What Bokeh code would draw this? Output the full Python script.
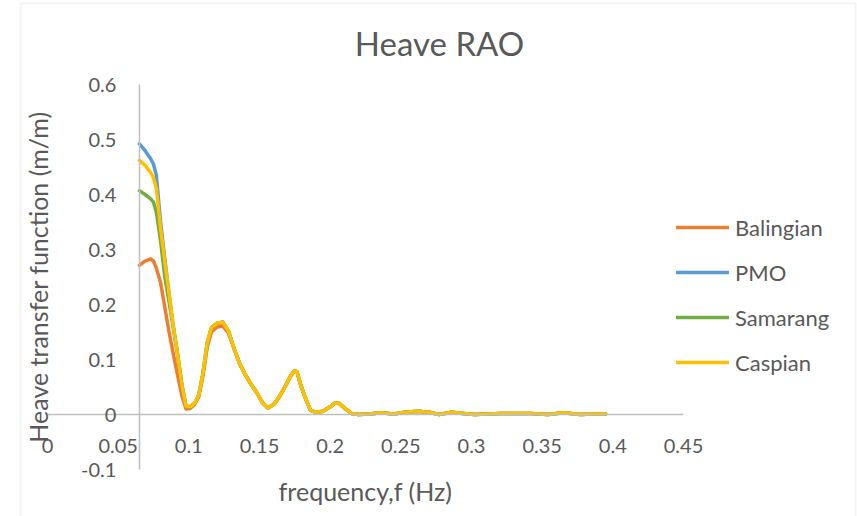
from bokeh.plotting import figure
from bokeh.models import Range1d, FixedTicker, Legend, LegendItem, BoxAnnotation, Label
from bokeh.embed import file_html
from bokeh.resources import INLINE

# ---------------- data ----------------
head_freq = [0.065, 0.069, 0.073, 0.075, 0.077, 0.080, 0.083, 0.086, 0.089, 0.092,
             0.095, 0.098, 0.101, 0.104, 0.107, 0.110, 0.113, 0.116, 0.120, 0.124,
             0.128]
tail_freq = [0.132, 0.136, 0.140, 0.144, 0.148, 0.152, 0.156, 0.160, 0.164, 0.168,
             0.172, 0.1745, 0.1765, 0.179, 0.182, 0.186, 0.190, 0.195, 0.200, 0.2035,
             0.2065, 0.210, 0.215, 0.220, 0.228, 0.236, 0.245, 0.253, 0.262, 0.270,
             0.277, 0.286, 0.294, 0.302, 0.312, 0.321, 0.331, 0.342, 0.354, 0.365,
             0.377, 0.386, 0.395]

# values where all four series coincide (f >= 0.132 Hz)
common_tail = [0.120, 0.092, 0.072, 0.055, 0.040, 0.022, 0.012, 0.018, 0.032, 0.050,
               0.070, 0.079, 0.078, 0.055, 0.033, 0.008, 0.004, 0.006, 0.014, 0.021,
               0.020, 0.012, 0.002, 0.000, 0.001, 0.003, 0.001, 0.004, 0.006, 0.004,
               0.000, 0.004, 0.002, 0.000, 0.001, 0.002, 0.002, 0.002, 0.000, 0.003,
               0.000, 0.001, 0.001]

balingian_head = [0.271, 0.279, 0.283, 0.279, 0.266, 0.240, 0.195, 0.150, 0.110, 0.072,
                  0.035, 0.010, 0.011, 0.018, 0.032, 0.070, 0.122, 0.150, 0.159, 0.161,
                  0.148]
pmo_head = [0.492, 0.480, 0.465, 0.455, 0.435, 0.350, 0.283, 0.220, 0.160, 0.110,
            0.055, 0.015, 0.014, 0.020, 0.035, 0.075, 0.130, 0.158, 0.166, 0.168,
            0.152]
samarang_head = [0.407, 0.400, 0.392, 0.386, 0.368, 0.316, 0.250, 0.205, 0.158, 0.110,
                 0.055, 0.015, 0.014, 0.020, 0.035, 0.075, 0.130, 0.158, 0.166, 0.168,
                 0.152]
caspian_head = [0.462, 0.453, 0.440, 0.430, 0.412, 0.338, 0.278, 0.220, 0.160, 0.110,
                0.055, 0.015, 0.014, 0.020, 0.035, 0.075, 0.130, 0.158, 0.166, 0.168,
                0.152]

series_names = ["Balingian", "PMO", "Samarang", "Caspian"]
series_heads = [balingian_head, pmo_head, samarang_head, caspian_head]
series_colors = ["#ED7D31", "#5B9BD5", "#70AD47", "#FFC000"]

x_ticks = [0, 0.05, 0.1, 0.15, 0.2, 0.25, 0.3, 0.35, 0.4, 0.45]
x_tick_labels = ["0", "0.05", "0.1", "0.15", "0.2", "0.25", "0.3", "0.35", "0.4", "0.45"]
y_ticks = [-0.1, 0, 0.1, 0.2, 0.3, 0.4, 0.5, 0.6]
y_tick_labels = ["-0.1", "0", "0.1", "0.2", "0.3", "0.4", "0.5", "0.6"]
x_axis_bounds = (0, 0.45)
y_axis_bounds = (-0.1, 0.6)
y_axis_crossing = 0.065

# ---------------- layout (pixels) ----------------
W, H = 857, 516
PX_X0, PX_PER_X = 47.0, 636.0 / 0.45      # pixel of x=0, pixels per unit
PX_Y0, PX_PER_Y = 414.0, 550.0            # pixel of y=0, pixels per unit


def px_x(px):
    return (px - PX_X0) / PX_PER_X


def px_y(py):
    return (PX_Y0 - py) / PX_PER_Y


FONT = "Lato"
TXT = "#595959"

p = figure(width=W, height=H, output_backend="svg", toolbar_location=None,
           x_range=Range1d(px_x(0), px_x(W)), y_range=Range1d(px_y(H), px_y(0)),
           min_border_left=0, min_border_right=0, min_border_top=0,
           min_border_bottom=0)
p.background_fill_color = "white"
p.border_fill_color = "white"
p.outline_line_color = None
p.xgrid.visible = False
p.ygrid.visible = False

for ax in (p.xaxis[0], p.yaxis[0]):
    ax.axis_line_color = "#BFBFBF"
    ax.axis_line_width = 1.5
    ax.major_tick_line_color = None
    ax.minor_tick_line_color = None
    ax.major_label_text_font = FONT
    ax.major_label_text_font_size = "20px"
    ax.major_label_text_color = TXT
    ax.axis_label_text_font = FONT
    ax.axis_label_text_font_size = "25px"
    ax.axis_label_text_font_style = "normal"
    ax.axis_label_text_color = TXT

p.xaxis.fixed_location = 0
p.yaxis.fixed_location = y_axis_crossing
p.xaxis.bounds = x_axis_bounds
p.yaxis.bounds = y_axis_bounds
p.xaxis.ticker = FixedTicker(ticks=x_ticks)
p.yaxis.ticker = FixedTicker(ticks=y_ticks)
p.xaxis.major_label_overrides = {t: l for t, l in zip(x_ticks, x_tick_labels)}
p.yaxis.major_label_overrides = {t: l for t, l in zip(y_ticks, y_tick_labels)}
p.xaxis.major_label_standoff = 18
p.yaxis.major_label_standoff = 17
p.xaxis.axis_label = "frequency,f (Hz)"
p.yaxis.axis_label = "Heave transfer function (m/m)"
p.xaxis.axis_label_standoff = 20
p.yaxis.axis_label_standoff = 25

freq = head_freq + tail_freq
items = []
for name, head, col in zip(series_names, series_heads, series_colors):
    r = p.line(freq, head + common_tail, line_color=col, line_width=3.5,
               line_join="round", line_cap="round")
    items.append(LegendItem(label=name, renderers=[r]))

legend = Legend(items=items, location=(676, 139), padding=0, margin=0,
                border_line_color=None, background_fill_alpha=0,
                glyph_width=53, glyph_height=30, label_height=30,
                spacing=15, label_standoff=6,
                label_text_font=FONT, label_text_font_size="22px",
                label_text_color=TXT)
p.add_layout(legend, "center")

title = Label(x=px_x(439), y=px_y(42), text="Heave RAO", text_align="center",
              text_baseline="middle", text_font=FONT, text_font_size="33px",
              text_color=TXT)
p.add_layout(title)

frame = BoxAnnotation(left=20, right=855, top=3, bottom=540,
                      left_units="canvas", right_units="canvas",
                      top_units="canvas", bottom_units="canvas",
                      fill_alpha=0, line_color="#D9D9D9", line_width=2)
p.add_layout(frame)

open("out.html", "w").write(file_html(p, INLINE))
